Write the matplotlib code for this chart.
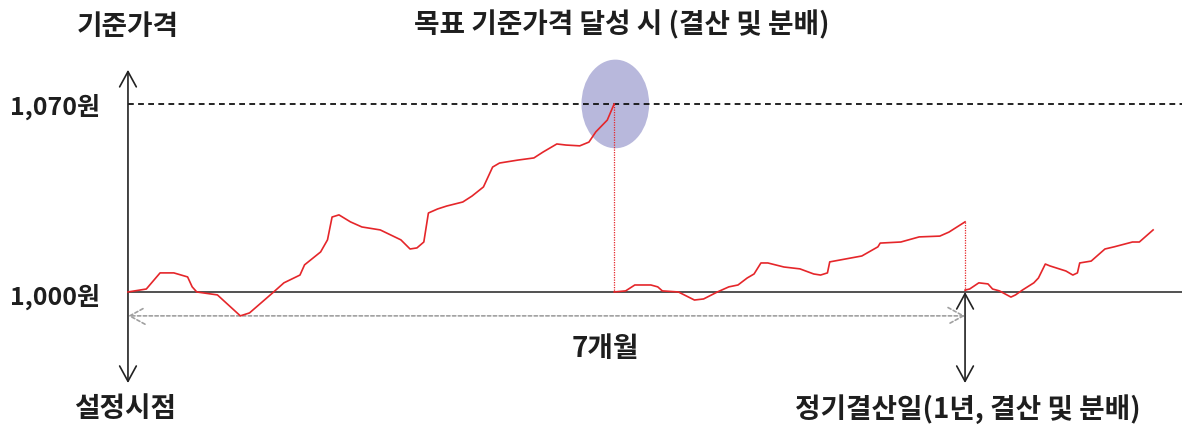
import matplotlib
matplotlib.use("Agg")
import matplotlib.pyplot as plt
from matplotlib.patches import Ellipse

plt.rcParams['font.family'] = ['Noto Sans CJK KR', 'DejaVu Sans']

# 기준가격 경로 (일수, 원)
days1 = [0, 8, 14, 20, 26, 28, 30, 39, 49, 53, 63, 68, 75, 77, 84, 87, 89, 92, 97,
         102, 110, 119, 123, 126, 129, 131, 135, 139, 146, 150, 155, 159, 162,
         170, 177, 181, 187, 191, 197, 201, 204, 209, 212]
nav1 = [1000.0, 1001.1, 1007.1, 1007.1, 1005.6, 1001.9, 1000.0, 998.9, 991.1, 992.2,
        999.6, 1003.4, 1006.3, 1010.1, 1014.9, 1019.4, 1027.9, 1028.7, 1026.1,
        1024.2, 1023.1, 1019.4, 1016.0, 1016.4, 1018.6, 1029.4, 1030.9, 1032.0,
        1033.5, 1035.7, 1039.1, 1046.5, 1048.0, 1049.1, 1049.9, 1052.1, 1055.1,
        1054.7, 1054.4, 1055.8, 1059.6, 1064.0, 1070.0]

days2 = [212, 217, 221, 228, 231, 233, 240, 247, 251, 257, 262, 266, 270, 273, 276,
         279, 286, 293, 299, 302, 305, 306, 313, 320, 327, 328, 337, 345, 354, 358, 365]
nav2 = [1000.0, 1000.4, 1002.6, 1002.6, 1001.9, 1000.4, 1000.0, 997.0, 997.4, 1000.0,
        1001.9, 1002.6, 1005.2, 1006.7, 1010.8, 1010.8, 1009.3, 1008.6, 1006.7,
        1006.3, 1007.1, 1011.2, 1012.3, 1013.4, 1016.8, 1018.2, 1018.6, 1020.5,
        1020.8, 1022.3, 1026.1]

days3 = [365, 367, 371, 375, 377, 380, 385, 387, 390, 395, 397, 400, 402, 409, 412,
         414, 415, 420, 426, 430, 438, 441, 447]
nav3 = [1000.7, 1001.1, 1003.4, 1003.0, 1001.1, 1000.4, 998.1, 998.9, 1000.7, 1003.4,
        1005.2, 1010.4, 1009.7, 1007.8, 1006.3, 1007.1, 1010.8, 1011.5, 1016.0,
        1016.8, 1018.6, 1018.6, 1023.1]

base_price = 1000
target_price = 1070
target_day = 212
settle_day = 365

red = '#E5262A'
txt = '#1E1E1E'

fig = plt.figure(figsize=(11.82, 4.26), dpi=100)
ax = fig.add_axes([0, 0, 1, 1])
ax.set_xlim(-55.8, 459.6)
ax.set_ylim(950.1, 1108.7)
ax.axis('off')

# 목표 달성 원
ax.add_patch(Ellipse((target_day + 0.5, target_price), 29.5, 33, facecolor='#B8B8DC',
                     edgecolor='none', zorder=1))

# 기준선
ax.plot([0, 460], [base_price, base_price], color='#222222', lw=1.1, zorder=2)
ax.plot([0, 460], [target_price, target_price], color='#111111', lw=1.3,
        ls=(0, (3.2, 2.4)), zorder=2)

# 기준가격 경로
for d, v in [(days1, nav1), (days2, nav2), (days3, nav3)]:
    ax.plot(d, v, color=red, lw=1.2, zorder=4)
ax.plot([target_day, target_day], [target_price, base_price], color=red, lw=0.9,
        ls=(0, (1, 1)), zorder=3)
ax.plot([settle_day, settle_day], [nav2[-1], base_price], color=red, lw=0.9,
        ls=(0, (1, 1)), zorder=3)

# 화살표
ax.annotate('', xy=(0, 1082.7), xytext=(0, 966.1),
            arrowprops=dict(arrowstyle='<->,head_length=0.55,head_width=0.3',
                            color='#222222', lw=1.2, mutation_scale=20,
                            shrinkA=0, shrinkB=0))
ax.annotate('', xy=(settle_day, base_price), xytext=(settle_day, 966.1),
            arrowprops=dict(arrowstyle='<->,head_length=0.55,head_width=0.3',
                            color='#222222', lw=1.2, mutation_scale=20,
                            shrinkA=0, shrinkB=0))
ax.annotate('', xy=(0, 991.1), xytext=(settle_day, 991.1),
            arrowprops=dict(arrowstyle='<->,head_length=0.55,head_width=0.3',
                            color='#A0A0A0', lw=1.2, ls=(0, (2, 1.5)),
                            mutation_scale=20, shrinkA=0, shrinkB=0))

# 텍스트
fs = 20
fs_num = 18
ax.text(0, 1098.7, '기준가격', ha='center', va='center', fontsize=fs,
        fontweight='bold', color=txt)
ax.text(-12.2, 1068.8, '1,070원', ha='right', va='center', fontsize=fs_num,
        fontweight='bold', color=txt)
ax.text(-12.2, 998.2, '1,000원', ha='right', va='center', fontsize=fs_num,
        fontweight='bold', color=txt)
ax.text(-1.3, 956.3, '설정시점', ha='center', va='center', fontsize=fs,
        fontweight='bold', color=txt)
ax.text(215.4, 1099.4, '목표 기준가격 달성 시 (결산 및 분배)', ha='center', va='center',
        fontsize=fs, fontweight='bold', color=txt)
ax.text(208, 978.8, '7개월', ha='center', va='center', fontsize=fs,
        fontweight='bold', color=txt)
ax.text(366, 956.3, '정기결산일(1년, 결산 및 분배)', ha='center', va='center',
        fontsize=fs, fontweight='bold', color=txt)

fig.savefig('out.png', dpi=100)
